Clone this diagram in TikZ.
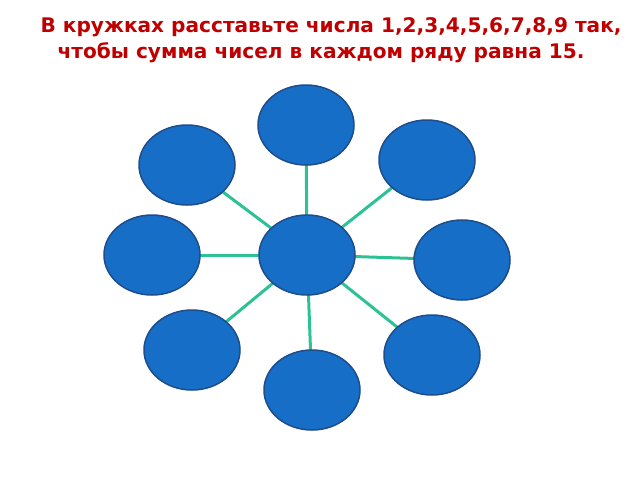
\documentclass[tikz,border=0pt]{standalone}
\usepackage{fontspec}
\setmainfont{DejaVu Sans}
\definecolor{titlered}{RGB}{192,0,0}
\definecolor{ballblue}{RGB}{22,110,198}
\definecolor{ballrim}{RGB}{30,76,140}
\definecolor{spoke}{RGB}{45,194,148}
\tikzset{
  ball/.style={ellipse,draw=ballrim,line width=1.5pt,fill=ballblue,
    minimum width=96pt,minimum height=80pt,inner sep=0pt},
  link/.style={draw=spoke,line width=3pt},
  title/.style={text=titlered,font=\bfseries\fontsize{20.1}{24}\selectfont,anchor=base}
}
\usetikzlibrary{shapes.geometric}
\begin{document}
\begin{tikzpicture}
[x=1pt,y=-1pt]
\useasboundingbox (0,0) rectangle (640,480);
\node[title] (T1) at (331,32) {В кружках расставьте числа 1,2,3,4,5,6,7,8,9 так,};
\node[title] (T2) at (321,58) {чтобы сумма чисел в каждом ряду равна 15.};

% spokes first, balls on top
\coordinate (c) at (307,255);
\coordinate (n) at (306,125);
\coordinate (nw) at (187,165);
\coordinate (ne) at (427,160);
\coordinate (w) at (152,255);
\coordinate (e) at (462,260);
\coordinate (sw) at (192,350);
\coordinate (se) at (432,355);
\coordinate (s) at (312,390);

\foreach \p in {n,nw,ne,w,e,sw,se,s}
  \path[link] (c) -- (\p);

\node[ball] (C) at (c) {};
\node[ball] (N) at (n) {};
\node[ball] (NW) at (nw) {};
\node[ball] (NE) at (ne) {};
\node[ball] (W) at (w) {};
\node[ball] (E) at (e) {};
\node[ball] (SW) at (sw) {};
\node[ball] (SE) at (se) {};
\node[ball] (S) at (s) {};
\end{tikzpicture}
\end{document}
